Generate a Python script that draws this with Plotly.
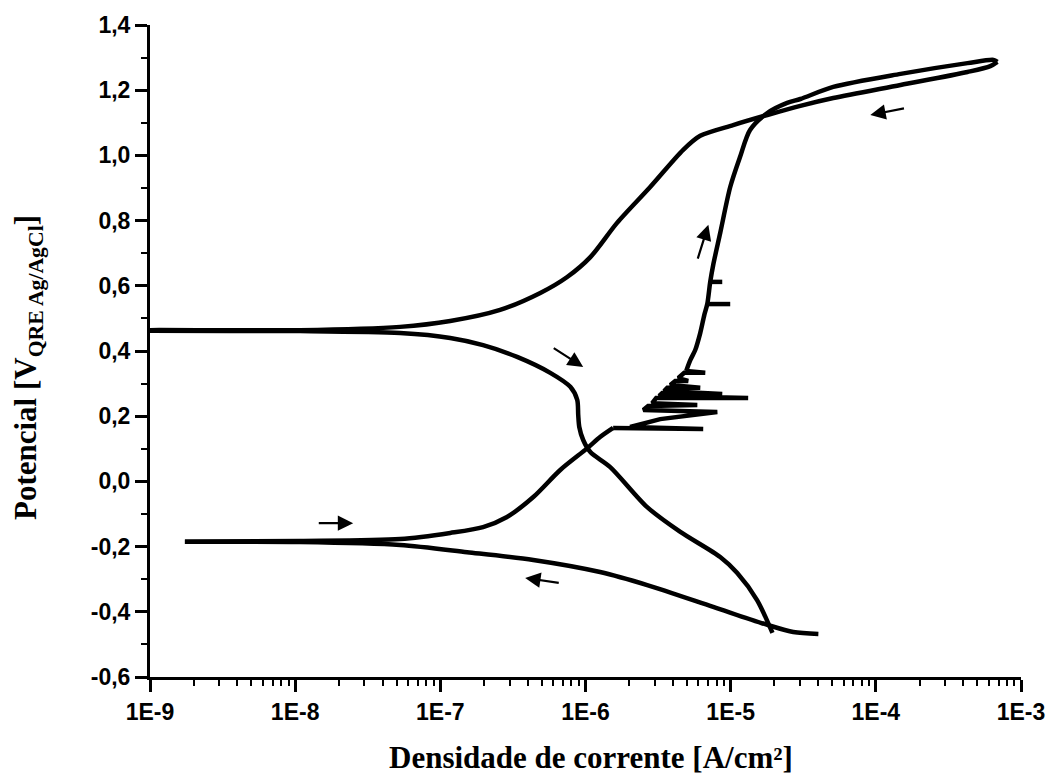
import math
import plotly.graph_objects as go

# ---- Forward scan -------------------------------------------------------
# cathodic part: start of the scan back to the corrosion potential
fc_i = [4.02e-5, 2.70e-5, 1.79e-5, 7.58e-6, 2.66e-6, 1.26e-6, 4.37e-7, 1.53e-7, 5.28e-8, 1.08e-8,
        1.74e-9]
fc_E = [-0.468, -0.462, -0.440, -0.385, -0.318, -0.278, -0.241, -0.217, -0.195, -0.186,
        -0.185]

# anodic part up to the onset of metastable pitting
fa_i = [1.74e-9, 1.08e-8, 5.28e-8, 1.17e-7, 1.97e-7, 2.88e-7, 4.37e-7, 6.70e-7, 1.03e-6, 1.26e-6,
        1.55e-6]
fa_E = [-0.185, -0.183, -0.177, -0.158, -0.140, -0.109, -0.048, 0.035, 0.102, 0.136,
        0.164]

# metastable pitting transients (current bursts)
fp_i = [1.55e-6, 6.47e-6, 2.03e-6, 3.27e-6, 8.09e-6, 2.50e-6, 2.70e-6, 5.89e-6, 2.88e-6, 3.07e-6,
        1.32e-5, 3.22e-6, 3.38e-6, 8.75e-6, 3.48e-6, 3.66e-6, 6.17e-6, 3.84e-6, 4.15e-6, 5.10e-6,
        4.36e-6, 4.79e-6, 6.68e-6, 4.94e-6]
fp_E = [0.164, 0.161, 0.167, 0.191, 0.213, 0.219, 0.231, 0.234, 0.240, 0.256,
        0.256, 0.262, 0.271, 0.268, 0.277, 0.287, 0.287, 0.296, 0.308, 0.308,
        0.317, 0.333, 0.333, 0.339]

# passive / transpassive part up to the vertex
fu_i = [4.94e-6, 5.27e-6, 5.70e-6, 6.17e-6, 6.58e-6, 6.90e-6, 7.23e-6, 7.58e-6, 8.47e-6, 9.93e-6,
        1.16e-5, 1.36e-5, 1.79e-5, 2.45e-5, 3.02e-5, 5.09e-5, 1.48e-4, 4.28e-4, 6.46e-4, 6.87e-4]
fu_E = [0.339, 0.372, 0.403, 0.455, 0.510, 0.544, 0.612, 0.664, 0.762, 0.903,
        0.995, 1.078, 1.130, 1.161, 1.173, 1.210, 1.250, 1.283, 1.293, 1.287]

# isolated transients on the passive branch: (potential, base current, peak current)
spikes = [(0.544, 6.90e-6, 9.93e-6), (0.612, 7.23e-6, 8.75e-6)]

# ---- Reverse scan -------------------------------------------------------
ru_i = [6.87e-4, 6.15e-4, 4.28e-4, 1.48e-4, 5.09e-5, 3.02e-5, 1.79e-5, 1.04e-5, 6.17e-6, 4.71e-6,
        2.79e-6, 1.65e-6, 1.08e-6, 7.48e-7, 4.88e-7, 2.58e-7, 1.17e-7, 5.28e-8, 1.08e-8, 1.0e-9,
        8.0e-10]
ru_E = [1.287, 1.274, 1.256, 1.216, 1.176, 1.152, 1.124, 1.093, 1.060, 1.017,
        0.903, 0.793, 0.688, 0.627, 0.578, 0.526, 0.492, 0.474, 0.464, 0.464,
        0.463]

rc_i = [8.0e-10, 1.0e-9, 1.08e-8, 5.28e-8, 1.17e-7, 1.97e-7, 3.38e-7, 5.72e-7, 7.86e-7, 8.77e-7,
        8.91e-7, 9.06e-7, 9.64e-7, 1.08e-6, 1.48e-6, 2.66e-6, 4.50e-6, 8.47e-6, 1.11e-5, 1.52e-5,
        1.94e-5]
rc_E = [0.463, 0.462, 0.461, 0.455, 0.440, 0.418, 0.382, 0.333, 0.290, 0.250,
        0.204, 0.167, 0.127, 0.090, 0.044, -0.079, -0.155, -0.232, -0.281, -0.364,
        -0.465]

# Scan direction arrows: (tail current, tail potential, head current, head potential)
arrows = [
    (1.42e-8, -0.128, 2.51e-8, -0.128),
    (6.70e-7, -0.312, 3.84e-7, -0.296),
    (5.90e-7, 0.412, 9.64e-7, 0.351),
    (5.89e-6, 0.679, 7.02e-6, 0.787),
    (1.60e-4, 1.145, 9.16e-5, 1.124),
]

x_tickvals = [1e-9, 1e-8, 1e-7, 1e-6, 1e-5, 1e-4, 1e-3]
x_ticktext = ["1E-9", "1E-8", "1E-7", "1E-6", "1E-5", "1E-4", "1E-3"]
y_tickvals = [-0.6, -0.4, -0.2, 0.0, 0.2, 0.4, 0.6, 0.8, 1.0, 1.2, 1.4]
y_ticktext = ["-0,6", "-0,4", "-0,2", "0,0", "0,2", "0,4", "0,6", "0,8", "1,0", "1,2", "1,4"]

x_title = "Densidade de corrente [A/cm²]"
y_title = "Potencial [V<sub>QRE Ag/AgCl</sub>]"

x_minor = [m * 10.0 ** e for e in range(-9, -3) for m in range(2, 10)]
y_minor = [round(-0.5 + 0.2 * k, 1) for k in range(10)]

LW = 4.5
fig = go.Figure()


def add_curve(xs, ys, shape):
    fig.add_trace(go.Scatter(x=xs, y=ys, mode="lines", showlegend=False, hoverinfo="skip",
                             line=dict(color="black", width=LW, shape=shape, smoothing=0.8)))


add_curve(fc_i, fc_E, "spline")
add_curve(fa_i, fa_E, "spline")
add_curve(fp_i, fp_E, "linear")
add_curve(fu_i, fu_E, "spline")
for e, base, peak in spikes:
    add_curve([base, peak], [e, e], "linear")
add_curve(ru_i, ru_E, "spline")
add_curve(rc_i, rc_E, "spline")

for ti, te, hi, he in arrows:
    fig.add_annotation(x=math.log10(hi), y=he, ax=math.log10(ti), ay=te,
                       xref="x", yref="y", axref="x", ayref="y", text="",
                       showarrow=True, arrowhead=2, arrowsize=1.4, arrowwidth=2.2,
                       arrowcolor="black")

tick_font = dict(family="Liberation Sans, Arial, sans-serif", size=23, color="black", weight="bold")
title_font = dict(family="Liberation Serif, Times New Roman, serif", size=31, color="black", weight="bold")

# axis titles placed as paper annotations so the plot area keeps its size
fig.add_annotation(text=y_title, textangle=-90, font=title_font, showarrow=False,
                   xref="paper", yref="paper", x=-0.140, y=0.474,
                   xanchor="center", yanchor="middle")
fig.add_annotation(text=x_title, font=title_font, showarrow=False,
                   xref="paper", yref="paper", x=0.506, y=-0.1227,
                   xanchor="center", yanchor="middle")

axis_common = dict(showline=True, linewidth=3, linecolor="black", ticks="outside", ticklen=12,
                   tickwidth=2.5, tickcolor="black", showgrid=False, zeroline=False, mirror=False,
                   tickfont=tick_font, automargin=False)

fig.update_xaxes(type="log", range=[-9, -3], tickmode="array", tickvals=x_tickvals,
                 ticktext=x_ticktext,
                 minor=dict(tickmode="array", tickvals=x_minor, ticks="outside", ticklen=6,
                            tickwidth=2, tickcolor="black", showgrid=False),
                 **axis_common)
fig.update_yaxes(range=[-0.6, 1.4], tickmode="array", tickvals=y_tickvals, ticktext=y_ticktext,
                 minor=dict(tickmode="array", tickvals=y_minor, ticks="outside", ticklen=6,
                            tickwidth=2, tickcolor="black", showgrid=False),
                 **axis_common)

fig.update_layout(width=1048, height=774, margin=dict(l=150, r=27, t=25, b=97),
                  plot_bgcolor="white", paper_bgcolor="white")

fig.write_html("out.html")
